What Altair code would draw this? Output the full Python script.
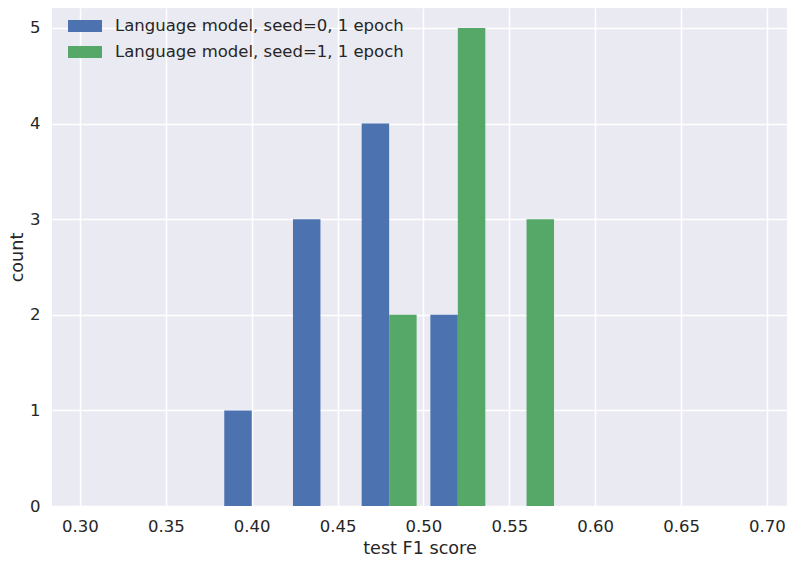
import altair as alt
import pandas as pd

bin_starts = [0.38, 0.42, 0.46, 0.50, 0.54]
counts_seed0 = [1, 3, 4, 2, 0]
counts_seed1 = [0, 0, 2, 5, 3]
series_names = ["Language model, seed=0, 1 epoch", "Language model, seed=1, 1 epoch"]
x_ticks = [0.30, 0.35, 0.40, 0.45, 0.50, 0.55, 0.60, 0.65, 0.70]
y_ticks = [0, 1, 2, 3, 4, 5]
colors = ["#4C72B0", "#55A868"]

rows = []
for i, counts in enumerate([counts_seed0, counts_seed1]):
    for b, c in zip(bin_starts, counts):
        if c > 0:
            rows.append({"bin": b, "count": c, "series": series_names[i], "idx": i})
df = pd.DataFrame(rows)

font = "DejaVu Sans"

chart = alt.Chart(df).transform_calculate(
    x0="datum.bin + 0.004 + datum.idx * 0.016",
    x1="datum.bin + 0.004 + (datum.idx + 1) * 0.016",
).mark_rect().encode(
    x=alt.X("x0:Q", scale=alt.Scale(domain=[0.2837, 0.71165], nice=False, zero=False),
            axis=alt.Axis(values=x_ticks, format=".2f", title="test F1 score",
                          tickSize=0, domain=False, labelPadding=12, titlePadding=5,
                          gridColor="white", gridWidth=1.5, labelFontSize=16.5,
                          titleFontSize=17.6, labelColor="#262626", titleColor="#262626",
                          labelFont=font, titleFont=font, titleFontWeight="normal",
                          labelFlush=False)),
    x2="x1:Q",
    y=alt.Y("count:Q", scale=alt.Scale(domain=[0, 5.209], nice=False),
            axis=alt.Axis(values=y_ticks, format="d", title="count",
                          tickSize=0, domain=False, labelPadding=12, titlePadding=3,
                          gridColor="white", gridWidth=1.5, labelFontSize=16.5,
                          titleFontSize=17.6, labelColor="#262626", titleColor="#262626",
                          labelFont=font, titleFont=font, titleFontWeight="normal")),
    y2=alt.datum(0),
    color=alt.Color("series:N", scale=alt.Scale(domain=series_names, range=colors),
                    legend=alt.Legend(title=None, orient="none", legendX=16, legendY=1,
                                      symbolType="M-1,-0.353L1,-0.353L1,0.353L-1,0.353Z",
                                      symbolSize=1156, symbolStrokeWidth=0, symbolOpacity=1,
                                      labelFontSize=16.5, labelFont=font, labelColor="#262626",
                                      labelOffset=13, labelLimit=500, rowPadding=-10, padding=0)),
).properties(
    width=735, height=498,
    padding={"left": 44, "top": 0, "right": 0, "bottom": 52},
    autosize=alt.AutoSizeParams(type="none"),
).configure_view(
    fill="#EAEAF2", stroke=None
)

chart.save("out.html", embed_options={"renderer": "svg", "actions": False})
